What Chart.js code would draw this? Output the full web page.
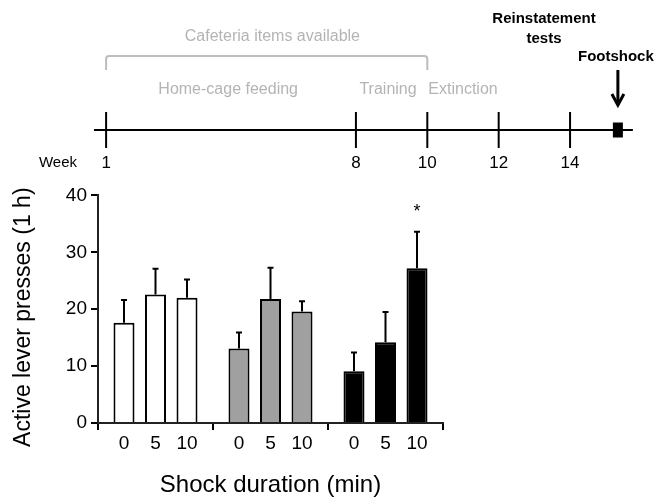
<!DOCTYPE html>
<html><head><meta charset="utf-8">
<script src="https://cdn.jsdelivr.net/npm/chart.js@4"></script>
<style>
html,body{margin:0;padding:0;background:#fff;width:655px;height:500px;overflow:hidden}
#tl{position:absolute;left:0;top:0}
#bars{position:absolute;left:0;top:180px}
</style></head><body>
<canvas id="tl" width="655" height="180"></canvas>
<canvas id="bars" width="655" height="320"></canvas>
<script>
const FONT = '"Liberation Sans", Arial, sans-serif';

// ---------- timeline data (weeks) ----------
const weekTicks = [1, 8, 10, 12, 14];
const timelineSpan = [0.66, 15.76];
const footshockWeek = 15.34;
const cafeteriaRange = [1, 10];
const cafeteriaLabel = 'Cafeteria items available';
const cafeteriaLabelWeek = 5.66;
const phaseLabels = ['Home-cage feeding', 'Training', 'Extinction'];
const phaseLabelWeeks = [4.42, 8.9, 11.0];
const reinstatementLabel = ['Reinstatement', 'tests'];
const reinstatementWeek = 13.27;
const footshockLabel = 'Footshock';

// ---------- bar chart data ----------
const groups = ['Group 1', 'Group 2', 'Group 3'];
const groupColors = ['#ffffff', '#a0a0a0', '#000000'];
const shockDurations = ['0', '5', '10'];
const meanDur0  = [17.6, 13.1, 9.1];
const meanDur5  = [22.6, 21.8, 14.2];
const meanDur10 = [22.0, 19.6, 27.2];
const semDur0  = [4.0, 2.8, 3.3];
const semDur5  = [4.5, 5.5, 5.3];
const semDur10 = [3.2, 1.8, 6.4];
const sigDur0  = ['', '', ''];
const sigDur5  = ['', '', ''];
const sigDur10 = ['', '', '*'];
const yTicks = [0, 10, 20, 30, 40];
const yTitle = 'Active lever presses (1 h)';

// ---------- timeline chart ----------
const timelinePlugin = {
  id: 'timelineText',
  afterDatasetsDraw(chart) {
    const ctx = chart.ctx, sx = chart.scales.x, sy = chart.scales.y;
    const y0 = sy.getPixelForValue(0);
    ctx.save();
    ctx.textBaseline = 'middle';
    // week numbers
    ctx.fillStyle = '#000';
    ctx.font = '17px ' + FONT;
    ctx.textAlign = 'center';
    weekTicks.forEach(w => ctx.fillText(String(w), sx.getPixelForValue(w), y0 + 33));
    ctx.font = '15px ' + FONT;
    ctx.textAlign = 'right';
    ctx.fillText('Week', sx.getPixelForValue(timelineSpan[0]) - 17, y0 + 33);
    // gray labels
    ctx.fillStyle = '#b4b4b4';
    ctx.font = '16px ' + FONT;
    ctx.textAlign = 'center';
    ctx.fillText(cafeteriaLabel, sx.getPixelForValue(cafeteriaLabelWeek), y0 - 93);
    phaseLabels.forEach((t, i) => ctx.fillText(t, sx.getPixelForValue(phaseLabelWeeks[i]), y0 - 40));
    // bracket
    const bx1 = sx.getPixelForValue(cafeteriaRange[0]), bx2 = sx.getPixelForValue(cafeteriaRange[1]);
    const by = y0 - 74, bb = y0 - 60, r = 3;
    ctx.strokeStyle = '#bdbdbd';
    ctx.lineWidth = 2;
    ctx.beginPath();
    ctx.moveTo(bx1, bb);
    ctx.lineTo(bx1, by + r);
    ctx.arcTo(bx1, by, bx1 + r, by, r);
    ctx.lineTo(bx2 - r, by);
    ctx.arcTo(bx2, by, bx2, by + r, r);
    ctx.lineTo(bx2, bb);
    ctx.stroke();
    // bold labels
    ctx.fillStyle = '#000';
    ctx.font = 'bold 15px ' + FONT;
    const rx = sx.getPixelForValue(reinstatementWeek);
    ctx.fillText(reinstatementLabel[0], rx, y0 - 111);
    ctx.fillText(reinstatementLabel[1], rx, y0 - 91);
    const fx = sx.getPixelForValue(footshockWeek);
    ctx.fillText(footshockLabel, fx - 2, y0 - 73);
    // arrow
    ctx.strokeStyle = '#000';
    ctx.lineWidth = 3;
    ctx.lineJoin = 'miter';
    ctx.beginPath();
    ctx.moveTo(fx, y0 - 60);
    ctx.lineTo(fx, y0 - 25);
    ctx.stroke();
    ctx.beginPath();
    ctx.moveTo(fx - 6, y0 - 36);
    ctx.lineTo(fx, y0 - 25);
    ctx.lineTo(fx + 6, y0 - 36);
    ctx.stroke();
    ctx.restore();
  }
};

new Chart(document.getElementById('tl'), {
  type: 'scatter',
  data: {
    datasets: [
      { type: 'line', data: timelineSpan.map(w => ({ x: w, y: 0 })), borderColor: '#000', borderWidth: 2, pointRadius: 0 },
      { data: weekTicks.map(w => ({ x: w, y: 0 })), pointStyle: 'line', pointRotation: 90, pointRadius: 18,
        pointBorderColor: '#000', pointBorderWidth: 2, borderColor: '#000' },
      { type: 'line', data: [{ x: footshockWeek, y: -0.15 }, { x: footshockWeek, y: 0.15 }],
        borderColor: '#000', borderWidth: 10, borderCapStyle: 'butt', pointRadius: 0 }
    ]
  },
  options: {
    responsive: false, animation: false, devicePixelRatio: 1,
    layout: { autoPadding: false, padding: { top: 80, left: 0, right: 0, bottom: 0 } },
    scales: {
      x: { type: 'linear', min: -1.973, max: 16.38, display: false },
      y: { type: 'linear', min: -1, max: 1, display: false }
    },
    plugins: { legend: { display: false }, tooltip: { enabled: false } }
  },
  plugins: [timelinePlugin]
});

// ---------- bar chart ----------
const errorPlugin = {
  id: 'errorBars',
  afterDatasetsDraw(chart) {
    const ctx = chart.ctx, ys = chart.scales.y, area = chart.chartArea;
    ctx.save();
    chart.data.datasets.forEach((ds, i) => {
      const meta = chart.getDatasetMeta(i);
      meta.data.forEach((bar, j) => {
        const yb = ys.getPixelForValue(ds.data[j]);
        const yt = ys.getPixelForValue(ds.data[j] + ds.sem[j]);
        ctx.strokeStyle = '#000';
        ctx.lineWidth = 2;
        ctx.beginPath();
        ctx.moveTo(bar.x, yb);
        ctx.lineTo(bar.x, yt);
        ctx.moveTo(bar.x - 3, yt);
        ctx.lineTo(bar.x + 3, yt);
        ctx.stroke();
        // tick label (shock duration)
        ctx.fillStyle = '#000';
        ctx.font = '19px ' + FONT;
        ctx.textAlign = 'center';
        ctx.textBaseline = 'middle';
        ctx.fillText(ds.label, bar.x, area.bottom + 21);
        if (ds.sig[j]) {
          ctx.font = '18px ' + FONT;
          ctx.textBaseline = 'alphabetic';
          ctx.fillText(ds.sig[j], bar.x, yt - 15);
        }
      });
    });
    // y-axis title
    ctx.translate(24, (area.top + area.bottom) / 2 + 8);
    ctx.rotate(-Math.PI / 2);
    ctx.font = '23px ' + FONT;
    ctx.textAlign = 'center';
    ctx.textBaseline = 'middle';
    ctx.fillStyle = '#000';
    ctx.fillText(yTitle, 0, 0);
    ctx.restore();
  }
};

const means = [meanDur0, meanDur5, meanDur10];
const sems = [semDur0, semDur5, semDur10];
const sigs = [sigDur0, sigDur5, sigDur10];

new Chart(document.getElementById('bars'), {
  type: 'bar',
  data: {
    labels: groups,
    datasets: shockDurations.map((d, i) => ({
      label: d, data: means[i], sem: sems[i], sig: sigs[i],
      backgroundColor: groupColors, borderColor: '#000', borderWidth: 2,
      categoryPercentage: 0.822, barPercentage: 0.667
    }))
  },
  options: {
    responsive: false, animation: false, devicePixelRatio: 1,
    layout: { padding: { top: 13, right: 212, bottom: 0, left: 0 } },
    plugins: { legend: { display: false }, tooltip: { enabled: false } },
    scales: {
      x: {
        grid: { display: true, drawOnChartArea: false, drawTicks: true, tickLength: 7, color: '#000', lineWidth: 2, offset: true },
        border: { display: true, color: '#222', width: 2 },
        ticks: { display: false },
        title: { display: true, text: 'Shock duration (min)', font: { family: FONT, size: 24 }, color: '#000', padding: 0 },
        afterFit(s) { s.height = 77; }
      },
      y: {
        min: 0, max: 40,
        afterBuildTicks(s) { s.ticks = yTicks.map(v => ({ value: v })); },
        grid: { drawOnChartArea: false, drawTicks: true, tickLength: 7, color: '#000', lineWidth: 2 },
        border: { display: true, color: '#222', width: 2 },
        ticks: { font: { family: FONT, size: 19 }, color: '#000', padding: 4 },
        title: { display: false, text: yTitle },
        afterFit(s) { s.width = 98; }
      }
    }
  },
  plugins: [errorPlugin]
});
</script>
</body></html>
